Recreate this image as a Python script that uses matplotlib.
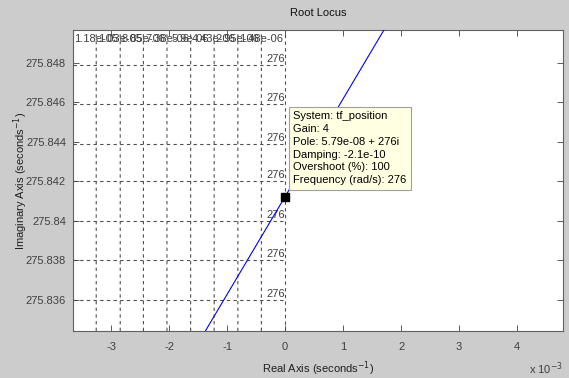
import numpy as np
import matplotlib
matplotlib.use('Agg')
import matplotlib.pyplot as plt
from matplotlib.ticker import FuncFormatter, FixedLocator

plt.rcParams['font.family'] = ['Liberation Sans', 'DejaVu Sans']

# locus branch (real, imag) near the selected pole
locus_re = [-1.42e-3, 1.73e-3]
locus_im = [275.8342, 275.8498]

# selected point
pole_re = 5.79e-08
pole_im = 275.8412
gain = 4
damping = -2.1e-10
overshoot = 100
system_name = 'tf_position'

# sgrid: damping rays and natural frequency circles
zetas = [1.18e-05, 1.03e-05, 8.85e-06, 7.38e-06, 5.9e-06, 4.43e-06, 2.95e-06, 1.48e-06, 0.0]
wns = [275.8479, 275.8459, 275.8439, 275.8420, 275.8400, 275.8380, 275.8360]

xticks = [-3e-3, -2e-3, -1e-3, 0, 1e-3, 2e-3, 3e-3, 4e-3]
yticks = [275.836, 275.838, 275.840, 275.842, 275.844, 275.846, 275.848]
xlim = (-3.655e-3, 4.79e-3)
ylim = (275.83443, 275.84967)

fig = plt.figure(figsize=(5.69, 3.78), dpi=100, facecolor='#cccccc')
ax = fig.add_axes([73/569, 47/378, 490/569, 301/378])
ax.set_facecolor('white')
ax.set_xlim(xlim)
ax.set_ylim(ylim)

grid_kw = dict(color='#505050', lw=0.8, ls=(0, (3, 3)), zorder=1)
txt_kw = dict(fontsize=8, color='#404040', zorder=2)

# damping rays
yy = np.array(ylim)
for z in zetas:
    xx = -z / np.sqrt(1 - z**2) * yy
    ax.plot(xx, yy, **grid_kw)
    if z > 0:
        ax.text(-z / np.sqrt(1 - z**2) * ylim[1], ylim[1] - 0.00045, '%.3g' % z,
                ha='center', va='center', **txt_kw)

# frequency circles (left half plane)
xs = np.linspace(xlim[0], 0, 50)
for w in wns:
    ax.plot(xs, np.sqrt(w**2 - xs**2), **grid_kw)
    ax.text(0, w + 0.00006, '%.3g' % w, ha='right', va='bottom', **txt_kw)

ax.plot(locus_re, locus_im, color='#0000ff', lw=0.8, zorder=3)
ax.plot([pole_re], [pole_im], marker='s', ms=6, color='black', zorder=5)

info = '\n'.join([
    'System: %s' % system_name,
    'Gain: %g' % gain,
    'Pole: %.3g + %.3gi' % (pole_re, pole_im),
    'Damping: %.2g' % damping,
    'Overshoot (%%): %g' % overshoot,
    'Frequency (rad/s): %.3g' % abs(complex(pole_re, pole_im)),
])
ax.annotate(info, xy=(pole_re, pole_im), xytext=(8, 12), textcoords='offset pixels',
            ha='left', va='bottom', fontsize=8, linespacing=1.35, zorder=6,
            bbox=dict(boxstyle='square,pad=0.4', fc='#ffffe1', ec='#a0a0a0', lw=0.8))

ax.xaxis.set_major_locator(FixedLocator(xticks))
ax.yaxis.set_major_locator(FixedLocator(yticks))
ax.xaxis.set_major_formatter(FuncFormatter(lambda v, p: '%g' % round(v * 1e3, 6)))
ax.yaxis.set_major_formatter(FuncFormatter(lambda v, p: '%.6g' % v))
ax.tick_params(direction='in', length=4, width=0.6, colors='#404040', labelsize=8,
               top=True, right=True)
ax.tick_params(axis='x', pad=8)
ax.tick_params(axis='y', pad=5)
for s in ax.spines.values():
    s.set_color('#606060')
    s.set_linewidth(0.8)

ax.set_xlabel('Real Axis (seconds$^{-1}$)', fontsize=8, color='#202020')
ax.xaxis.set_label_coords(0.5, -0.126)
ax.xaxis.label.set_va('center')
ax.set_ylabel('Imaginary Axis (seconds$^{-1}$)', fontsize=8, color='#202020')
ax.yaxis.set_label_coords(-0.106, 0.5)
ax.yaxis.label.set_va('center')

fig.text(563/569, 1 - 369/378, 'x 10$^{-3}$', ha='right', va='center', fontsize=8, color='#404040')
fig.text(318/569, 1 - 13/378, 'Root Locus', ha='center', va='center', fontsize=8, color='#101010')

fig.savefig('out.png', dpi=100, facecolor=fig.get_facecolor())
